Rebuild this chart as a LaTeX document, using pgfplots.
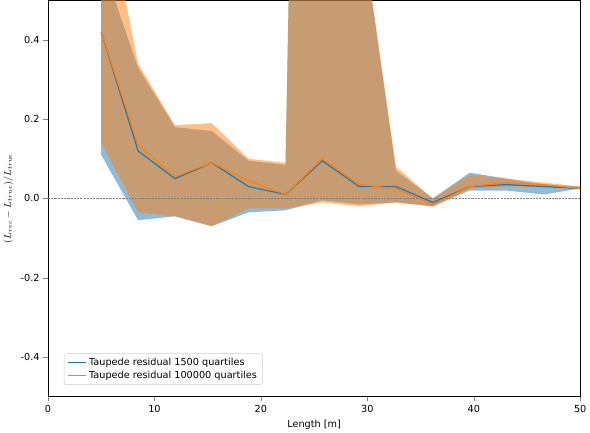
\documentclass[border=0pt]{standalone}
\usepackage{pgfplots}
\pgfplotsset{compat=1.18}
\usepgfplotslibrary{fillbetween}
\usepackage{fontspec}
\setmainfont{DejaVu Sans}
\definecolor{mblue}{HTML}{1F77B4}
\definecolor{morange}{HTML}{FF7F0E}
\begin{document}
\begin{tikzpicture}[font=\small]
\begin{axis}[width=494pt,height=368pt,scale only axis,
 xmin=0,xmax=50,ymin=-0.5,ymax=0.5,
 xtick={0,10,20,30,40,50},ytick={-0.4,-0.2,0,0.2,0.4},
 yticklabel style={/pgf/number format/fixed,/pgf/number format/precision=1,/pgf/number format/fixed zerofill},
 /pgf/number format/assume math mode=true,
 tick align=outside,tick pos=left,
 xlabel={Length [m]},ylabel={$(L_{rec}-L_{true})/L_{true}$},
 legend pos=south west,legend cell align=left,
 legend style={font=\small,draw=black!20,rounded corners=2pt},
 clip=true]
\addplot[name path=bu,draw=none,forget plot] coordinates {(5,0.6)(8.46,0.33)(11.92,0.18)(15.38,0.17)(18.85,0.095)(22.31,0.085)(25.77,5)(29.23,0.73)(32.69,0.07)(36.15,0.0)(39.62,0.065)(43.08,0.05)(46.54,0.035)(50,0.03)};
\addplot[name path=bl,draw=none,forget plot] coordinates {(5,0.11)(8.46,-0.055)(11.92,-0.045)(15.38,-0.07)(18.85,-0.035)(22.31,-0.03)(25.77,-0.005)(29.23,-0.015)(32.69,-0.01)(36.15,-0.02)(39.62,0.02)(43.08,0.02)(46.54,0.01)(50,0.025)};
\addplot[mblue,fill opacity=0.5,draw=none,forget plot] fill between[of=bu and bl];
\addplot[name path=ou,draw=none,forget plot] coordinates {(5,0.81)(8.46,0.34)(11.92,0.185)(15.38,0.19)(18.85,0.10)(22.31,0.09)(25.77,5)(29.23,0.73)(32.69,0.08)(36.15,0.0)(39.62,0.06)(43.08,0.05)(46.54,0.04)(50,0.03)};
\addplot[name path=ol,draw=none,forget plot] coordinates {(5,0.14)(8.46,-0.035)(11.92,-0.045)(15.38,-0.07)(18.85,-0.025)(22.31,-0.025)(25.77,-0.01)(29.23,-0.02)(32.69,-0.01)(36.15,-0.02)(39.62,0.025)(43.08,0.03)(46.54,0.03)(50,0.025)};
\addplot[morange,fill opacity=0.5,draw=none,forget plot] fill between[of=ou and ol];
\addplot[gray,dash pattern=on 2pt off 1pt,very thin,forget plot] coordinates {(0,0)(50,0)};
\addplot[mblue,line width=1.1pt] coordinates {(5,0.42)(8.46,0.12)(11.92,0.05)(15.38,0.09)(18.85,0.03)(22.31,0.01)(25.77,0.095)(29.23,0.03)(32.69,0.03)(36.15,-0.01)(39.62,0.03)(43.08,0.035)(46.54,0.03)(50,0.025)};
\addlegendentry{Taupede residual 1500 quartiles}
\addplot[morange,line width=1.1pt] coordinates {(5,0.42)(8.46,0.135)(11.92,0.055)(15.38,0.09)(18.85,0.045)(22.31,0.01)(25.77,0.10)(29.23,0.035)(32.69,0.025)(36.15,-0.015)(39.62,0.03)(43.08,0.04)(46.54,0.035)(50,0.025)};
\addlegendentry{Taupede residual 100000 quartiles}
\end{axis}
\end{tikzpicture}
\end{document}
